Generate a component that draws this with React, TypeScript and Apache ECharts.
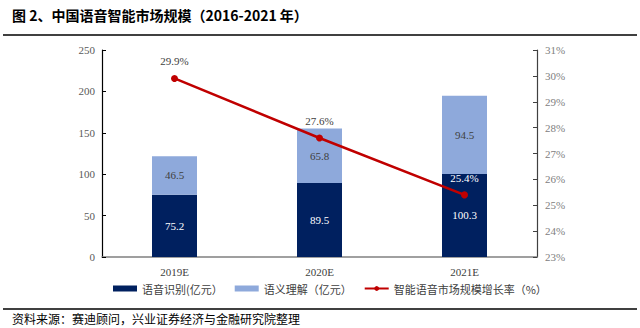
import React, { useEffect, useRef } from "react";
import * as echarts from "echarts";

const categories = ["2019E", "2020E", "2021E"];
const speechRecognition = [75.2, 89.5, 100.3];
const semanticUnderstanding = [46.5, 65.8, 94.5];
const growthRate = [29.9, 27.6, 25.4];
const leftTicks = [0, 50, 100, 150, 200, 250];
const rightTicks = [23, 24, 25, 26, 27, 28, 29, 30, 31];

const seriesNames = ["语音识别(亿元）", "语义理解（亿元）", "智能语音市场规模增长率（%）"];
const titleText = "图 2、中国语音智能市场规模（2016-2021 年）";
const sourceText = "资料来源：赛迪顾问，兴业证券经济与金融研究院整理";

const SERIF = "'Liberation Serif', 'Times New Roman', serif";
const CJK = "'Noto Sans CJK SC', sans-serif";

export default function App() {
  const ref = useRef<HTMLDivElement>(null);
  useEffect(() => {
    if (!ref.current) return;
    const chart = echarts.init(ref.current, undefined, { renderer: "svg" });
    chart.setOption({
      animation: false,
      backgroundColor: "#ffffff",
      textStyle: { fontFamily: SERIF },
      graphic: [
        {
          type: "text",
          left: 12,
          top: 8,
          style: { text: titleText, font: `bold 14px ${CJK}`, fill: "#000" },
        },
        {
          type: "line",
          shape: { x1: 3, y1: 35, x2: 637, y2: 35 },
          style: { stroke: "#000", lineWidth: 1.5 },
        },
        {
          type: "line",
          shape: { x1: 3, y1: 309, x2: 637, y2: 309 },
          style: { stroke: "#000", lineWidth: 1.5 },
        },
        {
          type: "text",
          left: 12,
          top: 312,
          style: { text: sourceText, font: `12px ${CJK}`, fill: "#000" },
        },
      ],
      legend: {
        bottom: 29,
        left: 108,
        itemWidth: 24,
        itemHeight: 6,
        itemGap: 12,
        textStyle: { fontFamily: CJK, fontSize: 11, color: "#404040" },
        data: [
          { name: seriesNames[0], icon: "rect" },
          { name: seriesNames[1], icon: "rect" },
          { name: seriesNames[2] },
        ],
      },
      grid: { left: 102, right: 103, top: 50, bottom: 71 },
      xAxis: {
        type: "category",
        data: categories,
        axisLine: { lineStyle: { color: "#808080", width: 1.5 } },
        axisTick: { show: false },
        axisLabel: { color: "#404040", fontSize: 11, fontFamily: SERIF, margin: 9 },
      },
      yAxis: [
        {
          type: "value",
          min: leftTicks[0],
          max: leftTicks[leftTicks.length - 1],
          interval: 50,
          splitLine: { show: false },
          axisLine: { show: true, lineStyle: { color: "#000", width: 1.2 } },
          axisTick: { show: true, inside: true, length: 4, lineStyle: { color: "#000" } },
          axisLabel: { color: "#595959", fontSize: 11, fontFamily: SERIF, margin: 7 },
        },
        {
          type: "value",
          min: rightTicks[0],
          max: rightTicks[rightTicks.length - 1],
          interval: 1,
          splitLine: { show: false },
          axisLine: { show: true, lineStyle: { color: "#404040", width: 1.2 } },
          axisTick: { show: true, inside: true, length: 4, lineStyle: { color: "#404040" } },
          axisLabel: { color: "#808080", fontSize: 11, fontFamily: SERIF, margin: 8, formatter: "{value}%" },
        },
      ],
      series: [
        {
          name: seriesNames[0],
          type: "bar",
          stack: "total",
          barWidth: 45,
          data: speechRecognition,
          itemStyle: { color: "#00205F" },
          label: { show: true, position: "inside", color: "#ffffff", fontSize: 11, fontFamily: SERIF },
        },
        {
          name: seriesNames[1],
          type: "bar",
          stack: "total",
          barWidth: 45,
          data: semanticUnderstanding,
          itemStyle: { color: "#8EA9DB" },
          label: { show: true, position: "inside", color: "#404040", fontSize: 11, fontFamily: SERIF },
        },
        {
          name: seriesNames[2],
          type: "line",
          yAxisIndex: 1,
          data: growthRate.map((v, i) => ({
            value: v,
            label: i === growthRate.length - 1 ? { color: "#ffffff" } : undefined,
          })),
          lineStyle: { color: "#C00000", width: 2.5 },
          itemStyle: { color: "#C00000" },
          symbol: "circle",
          symbolSize: 7,
          z: 5,
          label: {
            show: true,
            position: "top",
            distance: 8,
            color: "#404040",
            fontSize: 11,
            fontFamily: SERIF,
            formatter: (p: any) => `${p.value}%`,
          },
        },
      ],
    });
    return () => chart.dispose();
  }, []);
  return <div ref={ref} style={{ width: 640, height: 328, position: "absolute", left: 0, top: 0 }} />;
}
